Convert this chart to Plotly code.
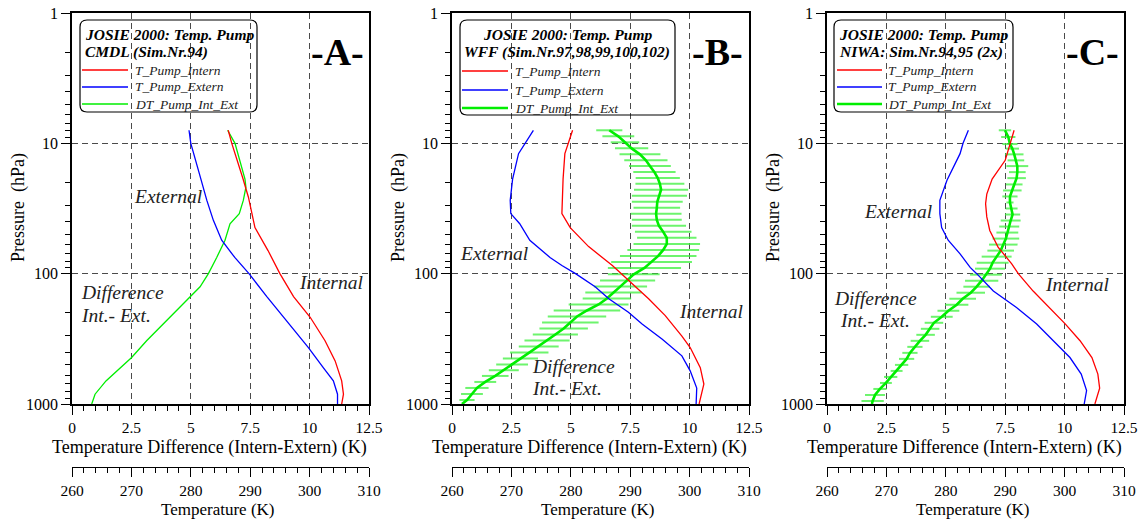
import plotly.graph_objects as go

W, H = 1141, 519
SERIF = "Liberation Serif"

# ---------------- data ----------------
# Panel A (CMDL)
pA_int = [7.94, 10.0, 18.8, 25.9, 44.3, 66.5, 100, 150, 216, 327, 467, 665, 841, 1000]
tA_int = [286.3, 286.9, 288.8, 289.7, 290.8, 293.0, 295.0, 297.3, 300.1, 302.6, 304.3, 305.4, 305.7, 305.4]
pA_ext = [7.94, 10.0, 18.8, 27.4, 39.0, 55.4, 75.1, 100, 150, 231, 369, 526, 665, 841, 1000]
tA_ext = [279.7, 280.0, 281.7, 282.7, 283.8, 285.2, 287.4, 289.8, 292.8, 296.1, 299.8, 302.3, 304.0, 304.7, 304.7]
pA_dif = [7.94, 10.0, 18.8, 21.7, 27.4, 34.6, 41.4, 55.4, 75.1, 100, 126, 160, 231, 327, 440, 557, 665, 841, 1000]
dA_dif = [6.55, 6.86, 7.28, 7.32, 7.21, 7.04, 6.65, 6.44, 6.09, 5.74, 5.39, 4.83, 3.98, 3.14, 2.51, 1.88, 1.43, 0.97, 0.83]

# Panel B (WFF)
pB_int = [7.94, 10.0, 12.0, 18.8, 27.4, 34.6, 44.3, 62, 86.6, 112, 156, 210, 301, 369, 526, 703, 1000]
tB_int = [280.3, 279.6, 279.0, 278.7, 278.5, 278.5, 279.9, 283.0, 287.0, 289.7, 293.1, 295.9, 298.7, 300.1, 301.8, 302.4, 301.6]
pB_ext = [7.94, 10.0, 12.0, 18.8, 27.4, 34.6, 41.4, 55.4, 75.1, 86.6, 100, 126, 156, 198, 243, 318, 427, 557, 755, 1000]
tB_ext = [273.7, 272.3, 271.2, 270.2, 269.8, 269.9, 271.4, 273.1, 276.5, 278.5, 280.8, 284.1, 286.4, 289.7, 292.0, 295.4, 298.7, 300.1, 301.2, 301.1]
pB_dif = [7.94, 8.84, 9.82, 10.93, 12.15, 13.51, 14.95, 16.63, 18.49, 20.42, 22.71, 25.26, 28.09, 31.24, 34.74,
          38.63, 42.97, 47.78, 53.13, 59.09, 65.71, 73.08, 81.28, 90.4, 101.2, 112.6, 125.2, 139.3, 154.9, 172.3,
          191.6, 213.1, 236.9, 263.6, 293.1, 326.0, 362.5, 403.2, 448.3, 498.7, 550.7, 609.0, 677.2, 753.2, 837.6,
          931.7, 1000]
dB_dif = [6.62, 7.00, 7.28, 7.56, 7.91, 8.16, 8.33, 8.52, 8.66, 8.75, 8.80, 8.73, 8.64, 8.62, 8.59,
          8.62, 8.71, 8.89, 9.04, 9.04, 8.89, 8.68, 8.40, 8.10, 7.65, 7.39, 7.09, 6.80, 6.52, 6.17,
          5.68, 5.26, 4.98, 4.70, 4.35, 4.00, 3.65, 3.25, 2.88, 2.53, 2.18, 1.82, 1.40, 1.05, 0.84,
          0.63, 0.42]
eB_dif = [0.55, 0.67, 0.60, 0.70, 0.86, 0.91, 0.88, 0.89, 0.93, 1.03, 1.14, 1.16, 1.07, 0.98, 1.07,
          1.05, 1.14, 1.19, 1.25, 1.40, 1.51, 1.61, 1.70, 1.54, 1.09, 1.16, 1.12, 1.19, 1.02, 1.26,
          1.40, 1.23, 1.19, 1.02, 0.95, 0.95, 0.84, 0.81, 0.74, 0.67, 0.63, 0.56, 0.46, 0.49, 0.46,
          0.32, 0.0]

# Panel C (NIWA)
pC_int = [7.94, 10.0, 13.5, 18.8, 24.5, 29.1, 36.7, 46.6, 62.6, 84, 100, 136, 182, 243, 327, 440, 590, 755, 1000]
tC_int = [291.5, 290.8, 290.0, 287.8, 286.9, 286.7, 286.9, 287.4, 288.8, 291.1, 292.2, 294.7, 297.5, 300.1, 302.6, 304.6, 305.6, 305.9, 305.1]
pC_ext = [7.94, 10.0, 12.0, 19.2, 27.4, 34.6, 44.3, 55.4, 70.5, 89.5, 100, 136, 182, 243, 327, 440, 590, 790, 1000]
tC_ext = [283.8, 282.9, 282.4, 280.2, 279.0, 279.0, 279.3, 280.4, 282.4, 284.1, 285.2, 288.0, 291.9, 295.3, 298.1, 300.9, 302.8, 303.7, 303.3]
pC_dif = [7.94, 8.94, 10.13, 10.98, 12.15, 13.51, 14.95, 16.63, 18.49, 20.67, 22.99, 25.56, 28.43, 31.62, 35.17,
          39.11, 43.50, 48.38, 53.81, 59.84, 66.55, 74.01, 82.32, 91.54, 101.8, 113.2, 125.9, 140.0, 155.7, 173.2,
          192.6, 214.2, 238.2, 264.9, 294.6, 327.6, 364.4, 405.2, 450.6, 501.2, 557.4, 619.9, 689.4, 766.7, 852.6,
          948.2, 1000]
dC_dif = [7.49, 7.63, 7.70, 7.80, 7.88, 7.95, 8.01, 8.01, 7.98, 7.88, 7.80, 7.70, 7.70, 7.77, 7.81,
          7.73, 7.67, 7.59, 7.53, 7.42, 7.31, 7.14, 6.97, 6.86, 6.69, 6.51, 6.30, 6.05, 5.71, 5.46,
          5.11, 4.83, 4.50, 4.34, 4.15, 3.91, 3.70, 3.49, 3.35, 3.14, 2.93, 2.68, 2.48, 2.23, 2.02,
          1.92, 1.89]
eC_dif = [0.26, 0.30, 0.32, 0.28, 0.39, 0.35, 0.46, 0.35, 0.39, 0.35, 0.39, 0.32, 0.15, 0.25, 0.32,
          0.42, 0.42, 0.46, 0.56, 0.60, 0.56, 0.63, 0.67, 0.63, 0.67, 0.70, 0.56, 0.60, 0.56, 0.49,
          0.46, 0.46, 0.39, 0.39, 0.39, 0.39, 0.32, 0.32, 0.32, 0.28, 0.25, 0.28, 0.25, 0.28, 0.42,
          0.47, 0.0]

diff_ticks = [0, 2.5, 5, 7.5, 10, 12.5]
diff_ticktext = ["0", "2.5", "5", "7.5", "10", "12.5"]
temp_ticks = [260, 270, 280, 290, 300, 310]
p_ticks = [1, 10, 100, 1000]
p_minor = [m * 10 ** k for k in range(3) for m in range(2, 10)]

legend_names = ["T_Pump_Intern", "T_Pump_Extern", "DT_Pump_Int_Ext"]
panel_letters = ["-A-", "-B-", "-C-"]
titles = [["JOSIE 2000: Temp. Pump", "CMDL (Sim.Nr.94)"],
          ["JOSIE 2000: Temp. Pump", "WFF (Sim.Nr.97,98,99,100,102)"],
          ["JOSIE 2000: Temp. Pump", "NIWA: Sim.Nr.94,95 (2x)"]]

RED, BLUE, GREEN = "#ff0000", "#0000ff", "#00ee00"
BAR = "rgba(60,240,60,0.75)"

# ---------------- layout geometry (pixels) ----------------
def fx(x):
    return x / W

def fy(y):
    return 1 - y / H

plot_left = [72, 452, 827]
plot_w = 297
top_px, bot_px, temp_px = 13, 404, 467

panels = [
    dict(pi=pA_int, ti=tA_int, pe=pA_ext, te=tA_ext, pd=pA_dif, dd=dA_dif, ed=None),
    dict(pi=pB_int, ti=tB_int, pe=pB_ext, te=tB_ext, pd=pB_dif, dd=dB_dif, ed=eB_dif),
    dict(pi=pC_int, ti=tC_int, pe=pC_ext, te=tC_ext, pd=pC_dif, dd=dC_dif, ed=eC_dif),
]

fig = go.Figure()
layout = dict(width=W, height=H, margin=dict(l=0, r=0, t=0, b=0, autoexpand=False),
              paper_bgcolor="white", plot_bgcolor="white", showlegend=False,
              font=dict(family=SERIF, color="black"))
annotations = []
shapes = []

tickfont = dict(family=SERIF, size=16, color="black")
xtickfont = dict(family=SERIF, size=15.5, color="black")
grid = dict(showgrid=True, gridcolor="#4a4a4a", griddash="6px,4px", gridwidth=1)

for i, pdat in enumerate(panels):
    xd = "x" if i == 0 else f"x{2 * i + 1}"
    xt = f"x{2 * i + 2}"
    yy = "y" if i == 0 else f"y{i + 1}"
    xd_key = "xaxis" if i == 0 else f"xaxis{2 * i + 1}"
    xt_key = f"xaxis{2 * i + 2}"
    y_key = "yaxis" if i == 0 else f"yaxis{i + 1}"
    L = plot_left[i]
    dom = [fx(L), fx(L + plot_w)]

    # traces
    fig.add_trace(go.Scatter(x=pdat["ti"], y=pdat["pi"], xaxis=xt, yaxis=yy, mode="lines",
                             line=dict(color=RED, width=1.3), name=legend_names[0]))
    fig.add_trace(go.Scatter(x=pdat["te"], y=pdat["pe"], xaxis=xt, yaxis=yy, mode="lines",
                             line=dict(color=BLUE, width=1.3), name=legend_names[1]))
    if pdat["ed"] is not None:
        fig.add_trace(go.Scatter(x=pdat["dd"], y=pdat["pd"], xaxis=xd, yaxis=yy, mode="markers",
                                 marker=dict(size=1, opacity=0),
                                 error_x=dict(type="data", array=pdat["ed"], color=BAR,
                                              thickness=2, width=0),
                                 hoverinfo="skip", name=legend_names[2] + " error"))
        gw = 2.6
    else:
        gw = 1.3
    fig.add_trace(go.Scatter(x=pdat["dd"], y=pdat["pd"], xaxis=xd, yaxis=yy, mode="lines",
                             line=dict(color=GREEN, width=gw), name=legend_names[2]))

    layout[xd_key] = dict(domain=dom, anchor=yy, range=[0, 12.5], tickmode="array",
                          tickvals=diff_ticks, ticktext=diff_ticktext, ticks="outside",
                          ticklen=9, tickwidth=1, tickcolor="black", tickfont=xtickfont,
                          ticklabelstandoff=0, automargin=False,
                          minor=dict(dtick=0.5, tick0=0, ticks="outside", ticklen=5,
                                     tickcolor="black", showgrid=False),
                          showline=True, linecolor="black", linewidth=1.5, mirror=True,
                          zeroline=False, **grid)
    layout[xt_key] = dict(overlaying=xd, anchor="free", position=fy(temp_px), side="bottom",
                          range=[260, 310], tickmode="array", tickvals=temp_ticks,
                          ticks="outside", ticklen=9, tickwidth=1, tickcolor="black",
                          tickfont=xtickfont, ticklabelstandoff=0, automargin=False,
                          minor=dict(dtick=2, tick0=260, ticks="outside", ticklen=5,
                                     tickcolor="black", showgrid=False),
                          showline=True, linecolor="black", linewidth=1.2,
                          showgrid=False, zeroline=False)
    layout[y_key] = dict(domain=[fy(bot_px), fy(top_px)], anchor=xd, type="log", range=[3, 0],
                         tickmode="array", tickvals=p_ticks, ticktext=["1", "10", "100", "1000"],
                         ticks="outside", ticklen=9, tickwidth=1, tickcolor="black",
                         tickfont=tickfont, automargin=False,
                         minor=dict(tickmode="array", tickvals=p_minor, ticks="outside",
                                    ticklen=5, tickcolor="black", showgrid=False),
                         showline=True, linecolor="black", linewidth=1.5, mirror=True,
                         zeroline=False, **grid)

    # axis titles
    cx = L + plot_w / 2
    annotations.append(dict(text="Temperature Difference (Intern-Extern) (K)", x=fx(cx - 11),
                            y=fy(447), xref="paper", yref="paper", showarrow=False,
                            xanchor="center", yanchor="middle",
                            font=dict(family=SERIF, size=18, color="black")))
    annotations.append(dict(text="Temperature (K)", x=fx(cx - 3), y=fy(509), xref="paper",
                            yref="paper", showarrow=False, xanchor="center", yanchor="middle",
                            font=dict(family=SERIF, size=17, color="black")))
    annotations.append(dict(text="Pressure  (hPa)", x=fx(L - 54), y=fy(208), xref="paper",
                            yref="paper", showarrow=False, textangle=-90,
                            xanchor="center", yanchor="middle",
                            font=dict(family=SERIF, size=18, color="black")))
    # panel letter
    annotations.append(dict(text="<b>" + panel_letters[i] + "</b>", x=fx(L + 265), y=fy(52),
                            xref="paper", yref="paper", showarrow=False, xanchor="center",
                            yanchor="middle", font=dict(family=SERIF, size=38, color="black")))

# legend boxes
boxes = [(80, 20, 257, 112), (460, 20, 675, 115), (834, 20, 1013, 112)]
title_pos = [(83, "left"), (567, "center"), (837, "left")]
item_rows = [(70, 87, 104), (71, 90, 108), (70, 87, 104)]
item_x = [(82, 128, 133), (462, 508, 513), (837, 882, 886)]
for i, (x0, y0, x1, y1) in enumerate(boxes):
    r = 7
    path = (f"M {fx(x0 + r)},{fy(y0)} L {fx(x1 - r)},{fy(y0)} "
            f"Q {fx(x1)},{fy(y0)} {fx(x1)},{fy(y0 + r)} L {fx(x1)},{fy(y1 - r)} "
            f"Q {fx(x1)},{fy(y1)} {fx(x1 - r)},{fy(y1)} L {fx(x0 + r)},{fy(y1)} "
            f"Q {fx(x0)},{fy(y1)} {fx(x0)},{fy(y1 - r)} L {fx(x0)},{fy(y0 + r)} "
            f"Q {fx(x0)},{fy(y0)} {fx(x0 + r)},{fy(y0)} Z")
    shapes.append(dict(type="path", path=path, xref="paper", yref="paper",
                       line=dict(color="black", width=1.2), fillcolor="rgba(0,0,0,0)"))
    tx, anc = title_pos[i]
    for j, line in enumerate(titles[i]):
        annotations.append(dict(text=f"<b><i>{line}</i></b>", x=fx(tx), y=fy(34 + 18 * j),
                                xref="paper", yref="paper", showarrow=False, xanchor=anc,
                                yanchor="middle",
                                font=dict(family=SERIF, size=15.5, color="black")))
    lx0, lx1, tx0 = item_x[i]
    for j, (name, col) in enumerate(zip(legend_names, [RED, BLUE, GREEN])):
        yrow = item_rows[i][j]
        lw = 1.3 if (j < 2 or i == 0) else 2.6
        shapes.append(dict(type="line", xref="paper", yref="paper", x0=fx(lx0), x1=fx(lx1),
                           y0=fy(yrow), y1=fy(yrow), line=dict(color=col, width=lw)))
        annotations.append(dict(text=f"<i>{name}</i>", x=fx(tx0), y=fy(yrow), xref="paper",
                                yref="paper", showarrow=False, xanchor="left", yanchor="middle",
                                font=dict(family=SERIF, size=13.5, color="#222")))

# curve labels
labels = [
    ("External", 132, 196, "left"), ("Internal", 297, 282, "left"),
    ("Difference", 79, 292, "left"), ("Int.- Ext.", 79, 315, "left"),
    ("External", 458, 253, "left"), ("Internal", 677, 311, "left"),
    ("Difference", 530, 366, "left"), ("Int.- Ext.", 530, 388, "left"),
    ("External", 862, 212, "left"), ("Internal", 1043, 284, "left"),
    ("Difference", 876, 298, "center"), ("Int.- Ext.", 875, 320, "center"),
]
for txt, x, y, anc in labels:
    annotations.append(dict(text=f"<i>{txt}</i>", x=fx(x), y=fy(y), xref="paper", yref="paper",
                            showarrow=False, xanchor=anc, yanchor="middle",
                            font=dict(family=SERIF, size=19.5, color="#222")))

layout["annotations"] = annotations
layout["shapes"] = shapes
fig.update_layout(**layout)
fig.write_html("out.html")
